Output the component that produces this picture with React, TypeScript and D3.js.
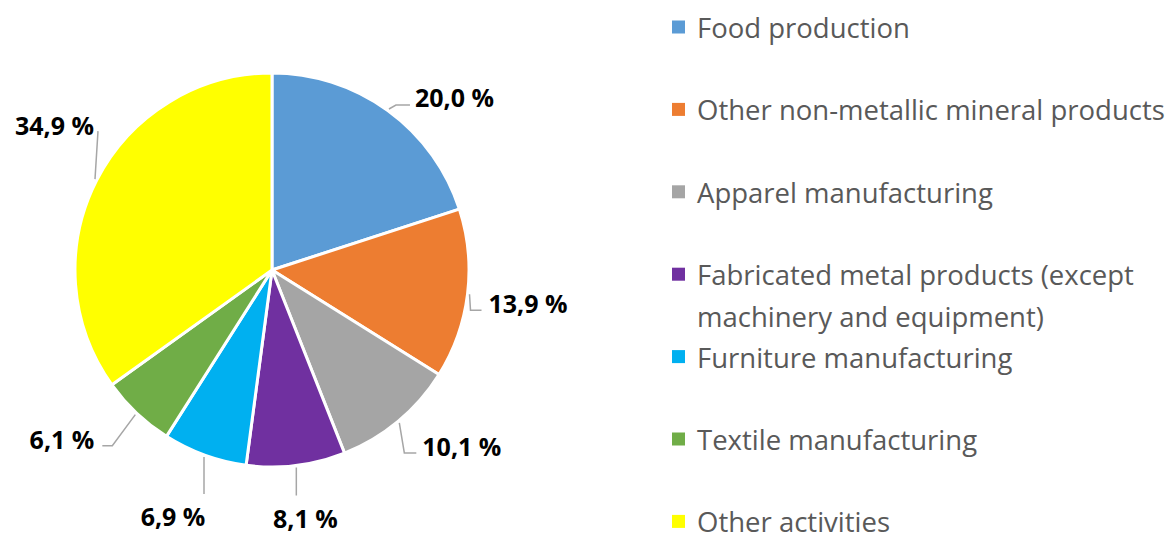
import React from "react";
import * as d3 from "d3";

const categories = [
  "Food production",
  "Other non-metallic mineral products",
  "Apparel manufacturing",
  "Fabricated metal products (except machinery and equipment)",
  "Furniture manufacturing",
  "Textile manufacturing",
  "Other activities",
];
const values = [20.0, 13.9, 10.1, 8.1, 6.9, 6.1, 34.9];
const colors = ["#5B9BD5", "#ED7D31", "#A5A5A5", "#7030A0", "#00B0F0", "#70AD47", "#FFFF00"];

// label leader layout: elbow offset from slice edge, horizontal tail, label side
const leaderLayout = [
  { ex: 7, ey: -4, tail: 14, side: "right", lx: 5, ly: -8 },
  { ex: 1, ey: 16, tail: 11, side: "right", lx: 7, ly: -7 },
  { ex: 5, ey: 30, tail: 12, side: "right", lx: 6, ly: -7 },
  { ex: 0, ey: 28, tail: 0, side: "below", lx: 9, ly: 22 },
  { ex: 0, ey: 37, tail: 0, side: "below", lx: -31, ly: 22 },
  { ex: -23, ey: 31, tail: -10, side: "left", lx: -8, ly: -7 },
  { ex: 3, ey: -48, tail: 0, side: "left", lx: -4, ly: -6 },
];

const W = 1171;
const H = 535;
const cx = 272;
const cy = 270;
const R = 197;

function wrap(s: string, max: number): string[] {
  const words = s.split(" ");
  const lines: string[] = [];
  let cur = "";
  for (const w of words) {
    const t = cur ? cur + " " + w : w;
    if (t.length > max && cur) {
      lines.push(cur);
      cur = w;
    } else cur = t;
  }
  if (cur) lines.push(cur);
  return lines;
}

export default function App() {
  const pie = d3.pie<number>().sort(null).startAngle(0).endAngle(2 * Math.PI)(values);
  const arc = d3.arc<d3.PieArcDatum<number>>().innerRadius(0).outerRadius(R);
  const fmt = (v: number) => v.toFixed(1).replace(".", ",") + " %";

  const legendX = 672;
  const legendY0 = 27;
  const legendStep = 82.4;
  const lineH = 42;

  return (
    <svg width={W} height={H} style={{ position: "absolute", left: 0, top: 0, background: "#fff" }}>
      <g transform={`translate(${cx},${cy})`}>
        {pie.map((d, i) => (
          <path key={i} d={arc(d) || ""} fill={colors[i]} stroke="#fff" strokeWidth={3} strokeLinejoin="round" />
        ))}
        {pie.map((d, i) => {
          const a = (d.startAngle + d.endAngle) / 2;
          const x0 = Math.sin(a) * (R + 2);
          const y0 = -Math.cos(a) * (R + 2);
          const L = leaderLayout[i];
          const x1 = x0 + L.ex;
          const y1 = y0 + L.ey;
          const x2 = x1 + L.tail;
          const pts: [number, number][] = [[x0, y0], [x1, y1]];
          if (L.tail !== 0) pts.push([x2, y1]);
          const lx = x2 + L.lx;
          const ly = y1 + L.ly;
          const anchor = L.side === "right" ? "start" : L.side === "left" ? "end" : "middle";
          return (
            <g key={"l" + i}>
              <path d={d3.line()(pts) || ""} fill="none" stroke="#A6A6A6" strokeWidth={1.5} />
              <text
                x={lx}
                y={ly}
                textAnchor={anchor}
                dominantBaseline="central"
                fontFamily="'Open Sans', 'Noto Sans', sans-serif"
                fontWeight={700}
                fontSize={25}
                fill="#000"
              >
                {fmt(values[i])}
              </text>
            </g>
          );
        })}
      </g>
      <g>
        {categories.map((c, i) => {
          const lines = wrap(c, 35);
          const y = legendY0 + i * legendStep;
          return (
            <g key={"g" + i}>
              <rect x={legendX} y={y - 6.5} width={13} height={13} fill={colors[i]} />
              <text
                x={legendX + 25}
                y={y}
                dominantBaseline="central"
                fontFamily="'Open Sans', 'Noto Sans', sans-serif"
                fontSize={27.5}
                fill="#595959"
              >
                {lines.map((ln, j) => (
                  <tspan key={j} x={legendX + 25} y={y + j * lineH}>
                    {ln}
                  </tspan>
                ))}
              </text>
            </g>
          );
        })}
      </g>
    </svg>
  );
}
